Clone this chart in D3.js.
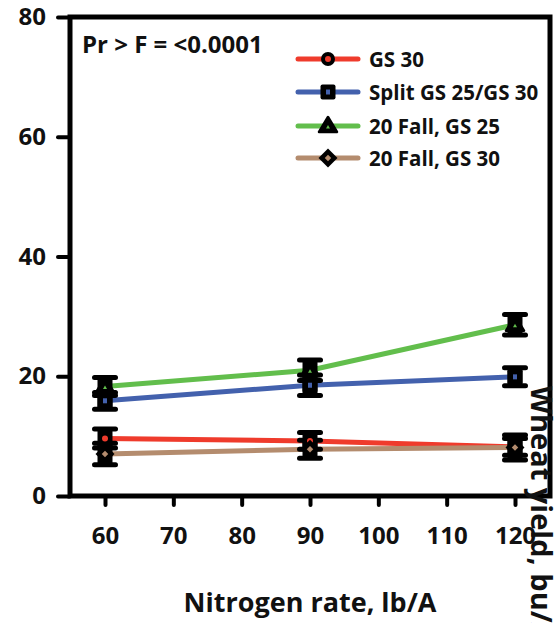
<!DOCTYPE html>
<html>
<head>
<meta charset="utf-8">
<script src="https://cdn.jsdelivr.net/npm/d3@7"></script>
<style>
  body { margin: 0; background: #fff; }
  svg text { font-family: "Open Sans", Lato, sans-serif; font-weight: bold; fill: #111; }
</style>
</head>
<body>
<svg id="chart" width="559" height="623"></svg>
<script>
// nitrogen rates, lb/A
var rates = [60, 90, 120];
var xTicks = [60, 70, 80, 90, 100, 110, 120];
var yTicks = [0, 20, 40, 60, 80];

var seriesNames = ['GS 30', 'Split GS 25/GS 30', '20 Fall, GS 25', '20 Fall, GS 30'];
var seriesColors = ['#ef3b2c', '#4361ad', '#62be4c', '#b48c6e'];
var seriesShapes = ['circle', 'square', 'triangle', 'diamond'];

// wheat yield, bu/A
var gs30 = [9.6, 9.2, 8.2];
var splitGs = [15.9, 18.5, 19.9];
var fallGs25 = [18.3, 21.0, 28.6];
var fallGs30 = [7.0, 7.8, 8.1];

// error bar half widths
var gs30Err = [1.6, 1.4, 1.4];
var splitGsErr = [1.4, 1.7, 1.5];
var fallGs25Err = [1.5, 1.7, 1.7];
var fallGs30Err = [1.8, 1.5, 2.1];

var seriesValues = [gs30, splitGs, fallGs25, fallGs30];
var seriesErrors = [gs30Err, splitGsErr, fallGs25Err, fallGs30Err];

(function () {
  var svg = d3.select('#chart');

  var plotLeft = 70, plotRight = 550, plotTop = 17, plotBottom = 496;

  var x = d3.scaleLinear().domain([60, 120]).range([105, 515]);
  var y = d3.scaleLinear().domain([0, 80]).range([plotBottom, plotTop]);

  // frame
  svg.append('rect')
    .attr('x', plotLeft).attr('y', plotTop)
    .attr('width', plotRight - plotLeft).attr('height', plotBottom - plotTop)
    .attr('fill', 'none').attr('stroke', '#000').attr('stroke-width', 5);

  // y axis
  var yAxis = svg.append('g')
    .attr('transform', 'translate(' + plotLeft + ',0)')
    .call(d3.axisLeft(y).tickValues(yTicks).tickSize(12).tickPadding(12).tickSizeOuter(0));
  yAxis.select('.domain').remove();
  yAxis.selectAll('.tick line').attr('stroke', '#000').attr('stroke-width', 4).attr('stroke-linecap', 'round');
  yAxis.selectAll('.tick text').style('font-size', '24px').attr('fill', '#111');

  // x axis
  var xAxis = svg.append('g')
    .attr('transform', 'translate(0,' + plotBottom + ')')
    .call(d3.axisBottom(x).tickValues(xTicks).tickSize(9).tickPadding(22).tickSizeOuter(0));
  xAxis.select('.domain').remove();
  xAxis.selectAll('.tick line').attr('stroke', '#000').attr('stroke-width', 4).attr('stroke-linecap', 'round');
  xAxis.selectAll('.tick text').style('font-size', '24px').attr('fill', '#111');

  // axis titles
  svg.append('text')
    .attr('x', 310).attr('y', 612)
    .attr('text-anchor', 'middle')
    .style('font-size', '27px')
    .text('Nitrogen rate, lb/A');

  svg.append('text')
    .attr('transform', 'translate(531,386) rotate(90)')
    .attr('text-anchor', 'start')
    .style('font-size', '29px')
    .text('Wheat yield, bu/A');

  // annotation
  svg.append('text')
    .attr('x', 82).attr('y', 53)
    .style('font-size', '24px')
    .text('Pr > F = <0.0001');

  function drawMarker(g, shape, color) {
    if (shape === 'circle') {
      g.append('circle').attr('r', 7).attr('fill', '#000');
      g.append('circle').attr('r', 3).attr('fill', color);
    } else if (shape === 'square') {
      g.append('rect').attr('x', -7.5).attr('y', -7.5).attr('width', 15).attr('height', 15).attr('rx', 2).attr('fill', '#000');
      g.append('rect').attr('x', -2).attr('y', -2.5).attr('width', 4).attr('height', 5).attr('fill', color);
    } else if (shape === 'triangle') {
      g.append('path').attr('d', 'M0,-9L9,6L-9,6Z').attr('fill', '#000').attr('stroke', '#000').attr('stroke-width', 2.5).attr('stroke-linejoin', 'round');
      g.append('path').attr('d', 'M0,-1L2,2.5L-2,2.5Z').attr('fill', color);
    } else {
      g.append('path').attr('d', 'M0,-9.5L9.5,0L0,9.5L-9.5,0Z').attr('fill', '#000');
      g.append('rect').attr('x', -2.3).attr('y', -2.3).attr('width', 4.6).attr('height', 4.6)
        .attr('transform', 'rotate(45)').attr('fill', color);
    }
  }

  var line = d3.line()
    .x(function (d, i) { return x(rates[i]); })
    .y(function (d) { return y(d); });

  // lines
  seriesValues.forEach(function (vals, s) {
    svg.append('path')
      .datum(vals)
      .attr('d', line)
      .attr('fill', 'none')
      .attr('stroke', seriesColors[s])
      .attr('stroke-width', 5);
  });

  // error bars
  seriesValues.forEach(function (vals, s) {
    var errs = seriesErrors[s];
    var g = svg.append('g');
    vals.forEach(function (v, i) {
      var cx = x(rates[i]);
      var y0 = y(v - errs[i]), y1 = y(v + errs[i]);
      g.append('line')
        .attr('x1', cx).attr('x2', cx).attr('y1', y0).attr('y2', y1)
        .attr('stroke', '#000').attr('stroke-width', 15);
      [y0, y1].forEach(function (yy) {
        g.append('line')
          .attr('x1', cx - 10.5).attr('x2', cx + 10.5).attr('y1', yy).attr('y2', yy)
          .attr('stroke', '#000').attr('stroke-width', 5).attr('stroke-linecap', 'round');
      });
    });
  });

  // markers
  seriesValues.forEach(function (vals, s) {
    vals.forEach(function (v, i) {
      var g = svg.append('g').attr('transform', 'translate(' + x(rates[i]) + ',' + y(v) + ')');
      drawMarker(g, seriesShapes[s], seriesColors[s]);
    });
  });

  // legend
  var legendRowY = [59, 92, 126, 158];
  seriesNames.forEach(function (name, s) {
    var g = svg.append('g').attr('transform', 'translate(298,' + legendRowY[s] + ')');
    g.append('line')
      .attr('x1', 0).attr('x2', 60).attr('y1', 0).attr('y2', 0)
      .attr('stroke', seriesColors[s]).attr('stroke-width', 5).attr('stroke-linecap', 'round');
    var m = g.append('g').attr('transform', 'translate(30,0)');
    drawMarker(m, seriesShapes[s], seriesColors[s]);
    g.append('text')
      .attr('x', 71).attr('y', 7.5)
      .style('font-size', '20.5px')
      .text(name);
  });
})();
</script>
</body>
</html>
